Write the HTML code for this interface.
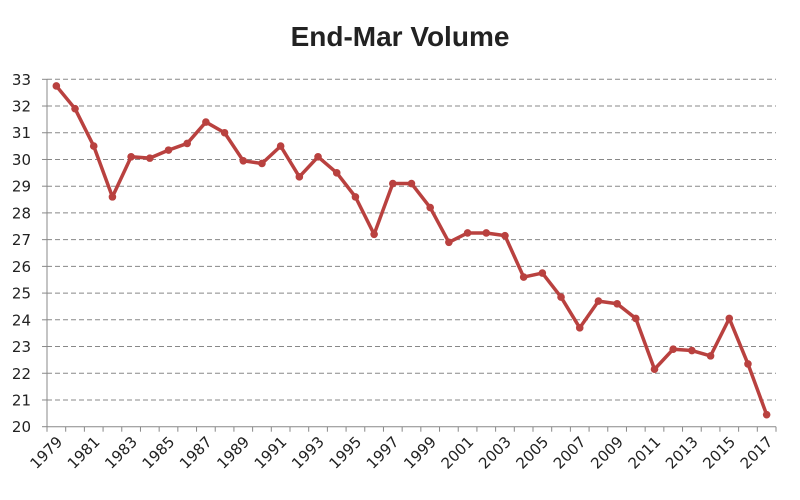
<!DOCTYPE html>
<html><head><meta charset="utf-8"><style>
body{margin:0;background:#fff;}
svg text{font-family:"DejaVu Sans","Liberation Sans",sans-serif;fill:#222;}
</style></head><body>
<svg width="800" height="495">
<text x="400" y="46" text-anchor="middle" font-size="28" font-weight="bold" style="font-family:'Liberation Sans',sans-serif">End-Mar Volume</text>
<g id="grid"></g><g id="axes"></g><g id="series"></g>
</svg>
<script>
const years=[1979,1980,1981,1982,1983,1984,1985,1986,1987,1988,1989,1990,1991,1992,1993,1994,1995,1996,1997,1998,1999,2000,2001,2002,2003,2004,2005,2006,2007,2008,2009,2010,2011,2012,2013,2014,2015,2016,2017];
const volume=[32.75,31.9,30.5,28.6,30.1,30.05,30.35,30.6,31.4,31.0,29.95,29.85,30.5,29.35,30.1,29.5,28.6,27.2,29.1,29.1,28.2,26.9,27.25,27.25,27.15,25.6,25.75,24.85,23.7,24.7,24.6,24.05,22.15,22.9,22.85,22.65,24.05,22.35,20.45];
const yTicks=[20,21,22,23,24,25,26,27,28,29,30,31,32,33];
const NS="http://www.w3.org/2000/svg";
const X0=47,X1=776,Y0=426.7,Y1=79.3,YMIN=20,YMAX=33;
const bw=(X1-X0)/years.length;
function xs(i){return X0+bw*(i+0.5);}
function ys(v){return Y0-(v-YMIN)/(YMAX-YMIN)*(Y0-Y1);}
function mk(tag,attrs,parent){const e=document.createElementNS(NS,tag);for(const k in attrs)e.setAttribute(k,attrs[k]);parent.appendChild(e);return e;}
const grid=document.getElementById('grid'),axes=document.getElementById('axes'),ser=document.getElementById('series');
yTicks.forEach(t=>{
  const y=ys(t);
  if(t>YMIN){const l=mk('line',{x1:X0,x2:X1,y1:y,y2:y,stroke:'#888','stroke-dasharray':'5,3','stroke-width':1},grid);
  
  }
  mk('line',{x1:X0-5,x2:X0,y1:y,y2:y,stroke:'#888'},axes);
  const tx=mk('text',{x:X0-16,y:y+5.5,'text-anchor':'end','font-size':15},axes);tx.textContent=t;
  
  
});
const ya=mk('line',{x1:X0,x2:X0,y1:Y1,y2:Y0,stroke:'#888'},axes);


const xa=mk('line',{x1:X0,x2:X1,y1:Y0,y2:Y0,stroke:'#888'},axes);


for(let i=0;i<=years.length;i++){const x=X0+bw*i;mk('line',{x1:x,x2:x,y1:Y0,y2:Y0+5,stroke:'#888'},axes);}
years.forEach((yr,i)=>{
  if(i%2)return;
  const x=xs(i)+7,y=Y0+16;
  const tx=mk('text',{x:x,y:y,'text-anchor':'end','font-size':15,transform:`rotate(-45 ${x} ${y})`},axes);tx.textContent=yr;
  
  
});
const pts=volume.map((v,i)=>xs(i)+','+ys(v)).join(' ');
const pl=mk('polyline',{points:pts,fill:'none',stroke:'#b9413f','stroke-width':3.5,'stroke-linejoin':'round'},ser);


volume.forEach((v,i)=>{
  const c=mk('circle',{cx:xs(i),cy:ys(v),r:3.8,fill:'#b9413f'},ser);
  
  
});
</script>
</body></html>
